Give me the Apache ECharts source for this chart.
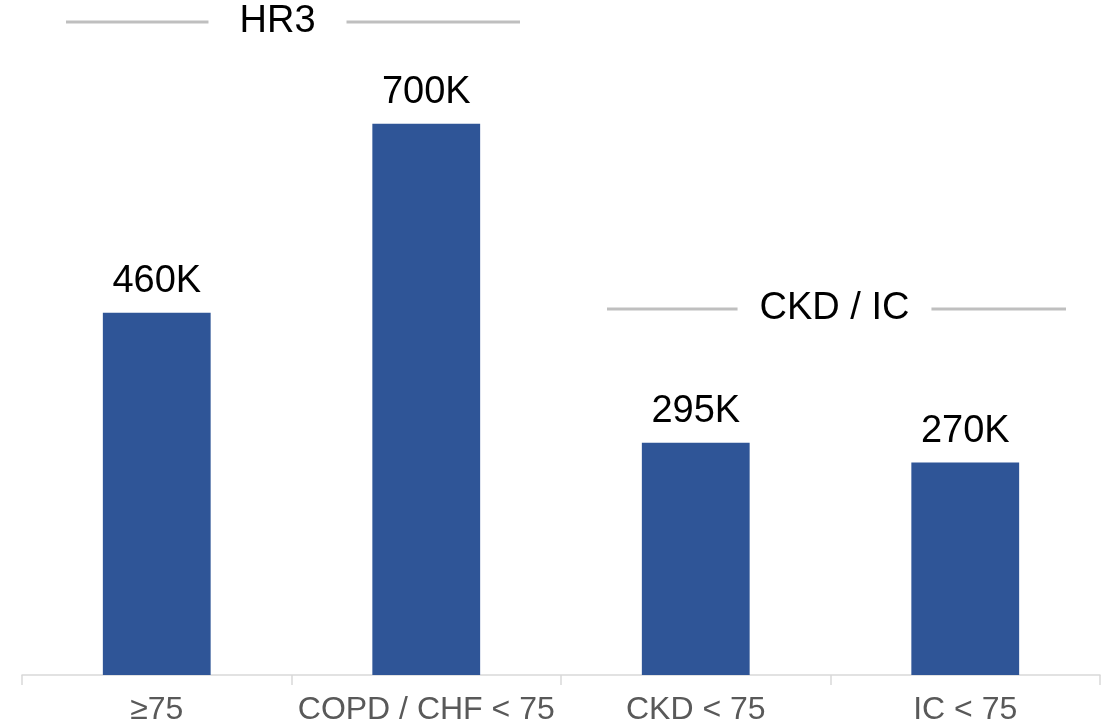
<!DOCTYPE html>
<html lang="en">
  <head>
    <meta charset="UTF-8" />
    <title>Patients by group</title>
    <script src="https://cdn.jsdelivr.net/npm/echarts@6/dist/echarts.min.js"></script>
    <style>
      html, body { margin: 0; padding: 0; background: #fff; }
      #chart { width: 1112px; height: 726px; }
    </style>
  </head>
  <body>
    <div id="chart"></div>
    <script>
      // data (thousands)
      const categories = ["≥75", "COPD / CHF < 75", "CKD < 75", "IC < 75"];
      const patients = [460, 700, 295, 270];
      // group brackets above the bars: [label, first index, last index]
      const groupNames = ["HR3", "CKD / IC"];
      const groupFrom = [0, 2];
      const groupTo = [1, 3];

      const font = '"Liberation Sans", Arial, sans-serif';
      const chart = echarts.init(document.getElementById("chart"));

      chart.setOption({
        animation: false,
        grid: { left: 22, right: 12, top: 45, bottom: 49 },
        xAxis: {
          type: "category",
          data: categories,
          axisLine: { lineStyle: { color: "#d9d9d9", width: 1.5 } },
          axisTick: { show: true, length: 10, lineStyle: { color: "#d9d9d9", width: 1.5 } },
          axisLabel: { color: "#595959", fontSize: 32, fontFamily: font, margin: 19, interval: 0 }
        },
        yAxis: { type: "value", min: 0, max: 800, show: false, splitLine: { show: false } },
        series: [{
          type: "bar",
          data: patients,
          barWidth: "40%",
          itemStyle: { color: "#2F5597" },
          label: {
            show: true,
            position: "top",
            distance: 12,
            color: "#000",
            fontSize: 38,
            fontFamily: font,
            formatter: p => p.value + "K"
          }
        }]
      });

      // bracket lines + label, x taken from the category axis
      const levels = [22, 309];      // pixel y of each bracket
      const insetL = [44, 46];       // line start, in from the group's left edge
      const insetR = [41, 34];       // line end, in from the group's right edge
      const shift = [-14, 4];        // label offset from the group's centre
      const gaps = [31, 22];         // room between label and lines
      const graphics = [];
      groupNames.forEach((name, i) => {
        const half = (chart.convertToPixel({ xAxisIndex: 0 }, 1) - chart.convertToPixel({ xAxisIndex: 0 }, 0)) / 2;
        const left = chart.convertToPixel({ xAxisIndex: 0 }, groupFrom[i]) - half;
        const right = chart.convertToPixel({ xAxisIndex: 0 }, groupTo[i]) + half;
        const cx = (left + right) / 2 + shift[i];
        const y = levels[i];
        const txtW = echarts.format.getTextRect
          ? echarts.format.getTextRect(name, "38px " + font).width
          : name.length * 20;
        graphics.push(
          { type: "line", shape: { x1: left + insetL[i], y1: y, x2: cx - txtW / 2 - gaps[i], y2: y }, style: { stroke: "#bfbfbf", lineWidth: 3 } },
          { type: "line", shape: { x1: cx + txtW / 2 + gaps[i], y1: y, x2: right - insetR[i], y2: y }, style: { stroke: "#bfbfbf", lineWidth: 3 } },
          { type: "text", x: cx, y: y, style: { text: name, fill: "#000", font: "38px " + font, textAlign: "center", textVerticalAlign: "middle" } }
        );
      });
      chart.setOption({ graphic: graphics });
    </script>
  </body>
</html>
